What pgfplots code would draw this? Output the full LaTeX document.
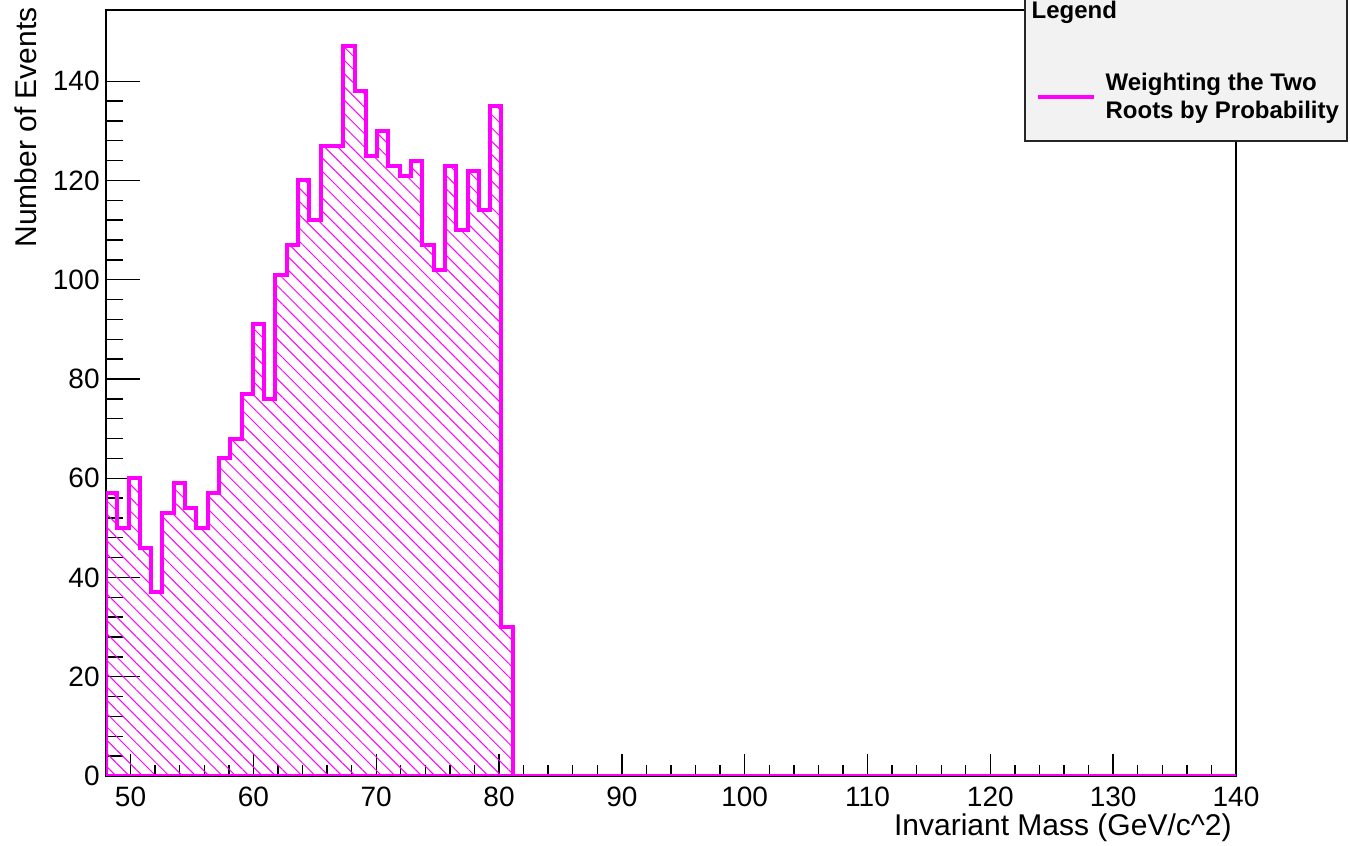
\documentclass[border=0pt]{standalone}
\usepackage{fontspec}
\setmainfont{Liberation Sans}
\usepackage{pgfplots}
\pgfplotsset{compat=1.18}
\usetikzlibrary{patterns.meta}
\definecolor{rootmag}{RGB}{255,0,255}
\begin{document}
\begin{tikzpicture}
\useasboundingbox (0,0) rectangle (675pt,423pt);
\begin{axis}[
  at={(53pt,35pt)}, anchor=south west,
  scale only axis, width=565pt, height=383pt,
  xmin=48, xmax=140, ymin=0, ymax=154.35,
  xtick={50,60,...,140}, ytick={0,20,...,140},
  minor x tick num=4, minor y tick num=4,
  tick pos=left, tick align=inside,
  xtick style={/pgfplots/major tick length=11pt, /pgfplots/minor tick length=5.5pt},
  ytick style={/pgfplots/major tick length=17pt, /pgfplots/minor tick length=8.5pt},
  axis line style={line width=0.8pt},
  tick style={black, line width=0.7pt},
  ticklabel style={font=\fontsize{14}{16}\selectfont},
  /pgf/number format/assume math mode=true,
  xticklabel style={anchor=north, inner sep=0pt, yshift=-5.3pt},
  yticklabel style={anchor=east, inner sep=0pt, xshift=-3pt},
  xlabel={Invariant Mass (GeV/c\textasciicircum 2)},
  ylabel={Number of Events},
  label style={font=\fontsize{15}{18}\selectfont},
  xlabel style={at={(axis description cs:0.9965,-0.0483)}, anchor=north east, inner sep=0pt},
  ylabel style={at={(axis description cs:-0.0611,1.0039)}, anchor=base east, inner sep=0pt},
  legend style={at={(axis description cs:0.8124,0.8277)}, anchor=south west,
    fill=black!5, draw=black!85, line width=0.8pt,
    inner xsep=2pt, inner ysep=8pt,
    font=\bfseries\fontsize{12}{14}\selectfont,
    cells={anchor=west, align=left, inner sep=0pt},
    row sep=21.5pt,
    /tikz/every odd column/.append style={column sep=3pt}},
]
\addplot[const plot, draw=rootmag, line width=2pt,
  pattern={Lines[angle=-45,distance=4.7pt,line width=0.5pt]}, pattern color=rootmag,
  forget plot] coordinates {
(48,57) (48.92,50) (49.84,60) (50.76,46) (51.68,37) (52.6,53) (53.52,59)
(54.44,54) (55.36,50) (56.28,57) (57.2,64) (58.12,68) (59.04,77) (59.96,91)
(60.88,76) (61.8,101) (62.72,107) (63.64,120) (64.56,112) (65.48,127) (66.4,127)
(67.32,147) (68.24,138) (69.16,125) (70.08,130) (71.0,123) (71.92,121) (72.84,124)
(73.76,107) (74.68,102) (75.6,123) (76.52,110) (77.44,122) (78.36,114) (79.28,135)
(80.2,30) (81.12,0) (140,0)
} \closedcycle;
\addlegendimage{empty legend}
\addlegendentry{\hspace*{-37pt}Legend}
\addlegendimage{legend image code/.code={\path (0pt,0pt); \draw[rootmag,line width=2pt] (4pt,0pt) -- (32pt,0pt);}}
\addlegendentry{Weighting the Two\\Roots by Probability}
\end{axis}
\end{tikzpicture}
\end{document}
